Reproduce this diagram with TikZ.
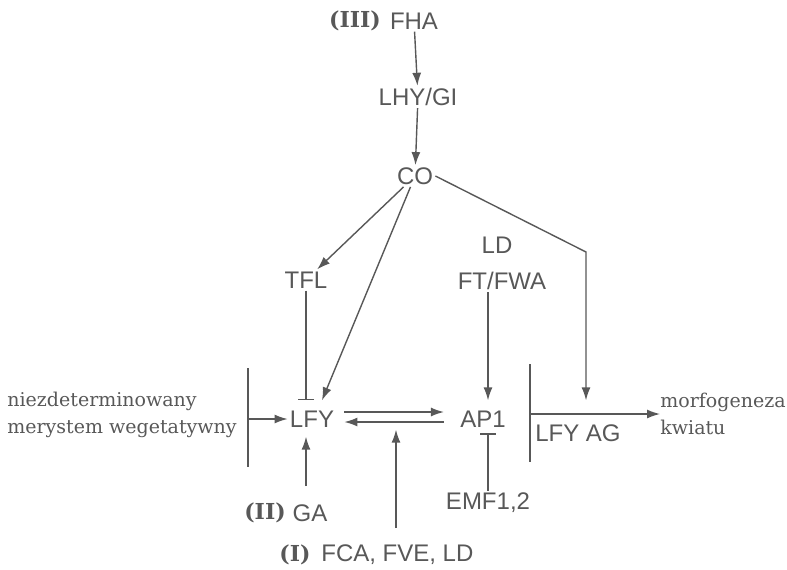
\documentclass[tikz,border=0pt]{standalone}
\usepackage{fontspec}
\setmainfont{DejaVu Serif}
\setsansfont{Liberation Sans}
\usetikzlibrary{arrows.meta}
\definecolor{ink}{HTML}{585858}

\begin{document}
\begin{tikzpicture}
        [x=0.5pt, y=-0.5pt,
         every node/.style={
             text=ink,
             inner sep=1pt
         },
         gene/.style={
             font=\sffamily\fontsize{12}{14}\selectfont
         },
         group/.style={
             font=\bfseries\fontsize{11}{13}\selectfont
         },
         state/.style={
             font=\fontsize{9.5}{13.5}\selectfont,
             align=left,
             inner sep=0pt
         },
         act/.style={
             ink,
             line width=0.7pt,
             -{Latex[length=6.5pt, width=4.5pt]}
         },
         inh/.style={
             ink,
             line width=0.7pt,
             -{Bar[width=8pt, line width=0.8pt]}
         },
         wall/.style={
             ink,
             line width=0.8pt
         }
         ]
        \useasboundingbox (0,0) rectangle (787,569);

        % genes
        \node[gene] (fha) at (414,21) {FHA};
        \node[gene] (lhy) at (418,97) {LHY/GI};
        \node[gene] (co) at (415,176) {CO};
        \node[gene] (tfl) at (306,280) {TFL};
        \node[gene] (ld) at (497,245) {LD};
        \node[gene] (ft) at (502,281) {FT/FWA};
        \node[gene] (lfy) at (312,419) {LFY};
        \node[gene] (ap1) at (483,419) {AP1};
        \node[gene] (lfyag) at (578,433) {LFY AG};
        \node[gene] (emf) at (488,503) {EMF1,2};
        \node[gene] (ga) at (310,513) {GA};
        \node[gene, anchor=west] (fca) at (319,555) {FCA, FVE, LD};

        % pathway numbers
        \node[group] (p3) at (355,21) {(III)};
        \node[group] (p2) at (265,513) {(II)};
        \node[group] (p1) at (295,555) {(I)};

        % start and end states
        \node[state, anchor=west] (meri) at (7,415)
            {niezdeterminowany\\merystem wegetatywny};
        \node[state, anchor=west] (morf) at (660,414)
            {morfogeneza\\kwiatu};

        % walls
        \coordinate (wl1) at (248,368);
        \coordinate (wl2) at (248,467);
        \coordinate (wr1) at (530,364);
        \coordinate (wr2) at (530,462);
        \coordinate (bend) at (586,252);
        \coordinate (mid) at (396,528);
        \draw[wall] (wl1) -- (wl2);
        \draw[wall] (wr1) -- (wr2);

        % photoperiod branch
        \draw[act] (fha) -- (lhy);
        \draw[act] (lhy) -- (co);
        \draw[act] (co) -- (tfl);
        \draw[act] (co) -- ([xshift=5pt, yshift=4pt]lfy.north);
        \draw[act] (co.east) -- (bend) -- ([yshift=4pt]bend |- ap1.north);
        \draw[act] (ft.south -| emf) -- ([yshift=4pt]ap1.north -| emf);

        % around LFY and AP1
        \draw[inh] (tfl) -- ([yshift=4pt]lfy.north -| tfl);
        \draw[inh] (emf) -- ([yshift=-1.7pt]ap1.south -| emf);
        \draw[act] (wl1 |- lfy) -- (lfy);
        \draw[act, shorten <=8pt, shorten >=3.5pt] (ga.north -| tfl) -- (lfy.south -| tfl);
        \draw[act] (mid) -- (mid |- lfy.south);
        \draw[act, shorten <=4pt, shorten >=7pt]
            ([yshift=3.5pt]lfy.east) -- ([yshift=3.5pt]ap1.west);
        \draw[act, shorten <=7pt, shorten >=4pt]
            ([yshift=-1.5pt]ap1.west) -- ([yshift=-1.5pt]lfy.east);
        \draw[act] (wr1 |- 0,414) -- (morf.west);
\end{tikzpicture}
\end{document}
